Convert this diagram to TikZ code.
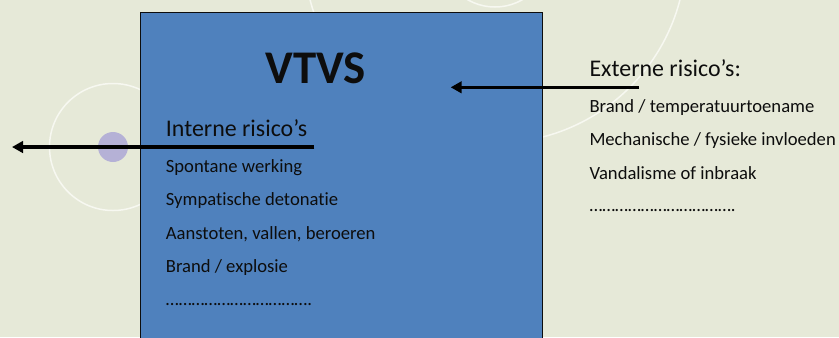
\documentclass[tikz,border=0pt]{standalone}
\usepackage{fontspec}
\setmainfont[Ligatures=NoCommon]{Carlito}
\usetikzlibrary{arrows.meta}
\definecolor{bgcol}{HTML}{E6E9D8}
\definecolor{boxblue}{HTML}{4F81BD}
\definecolor{dotpurple}{HTML}{B5B1D6}
\definecolor{ringcol}{HTML}{F7F8F1}
\definecolor{inkcol}{HTML}{0D0D0D}
\begin{document}
\begin{tikzpicture}[x=1bp,y=-1bp,
  item/.style={anchor=base west, inner sep=0pt, text=inkcol, font=\fontsize{18.7}{20}\selectfont},
  head/.style={anchor=base west, inner sep=0pt, text=inkcol, font=\fontsize{24}{26}\selectfont},
  conn/.style={draw=black, line width=3.2bp, -{Triangle[length=11bp,width=11.5bp]}},
  ring/.style={draw=ringcol, line width=1.5bp}]
\useasboundingbox (0,0) rectangle (839,337);
\clip (0,0) rectangle (839,337);
\fill[bgcol] (0,0) rectangle (839,337);
% background decoration
\draw[ring] (113,147) circle[radius=63.5];
\fill[dotpurple] (113,147) circle[radius=15];
\draw[ring] (495,-48) circle[radius=191];
\draw[ring] (495,-48) circle[radius=55];
% blue box
\node[draw=inkcol, fill=boxblue, line width=0.8bp, minimum width=401.5bp,
      minimum height=340bp, anchor=north west, inner sep=0pt] (box) at (140,11.5) {};
% title
\node[anchor=base, inner sep=0pt, text=inkcol, font=\fontsize{47}{50}\selectfont\bfseries] (title) at (315.5,83) {VTVS};
% internal risks
\node[head] (intern) at (165.7,136.7) {Interne risico’s};
\node[item] (i1) at (165.7,172.3) {Spontane werking};
\node[item] (i2) at (165.7,205.5) {Sympatische detonatie};
\node[item] (i3) at (165.7,239) {Aanstoten, vallen, beroeren};
\node[item] (i4) at (165.7,272.5) {Brand / explosie};
\node[item] (i5) at (165.7,305) {…………………………….};
% external risks
\node[head] (extern) at (589.3,76.7) {Externe risico’s:};
\node[item] (e1) at (589.3,112.3) {Brand / temperatuurtoename};
\node[item] (e2) at (589.3,145.7) {Mechanische / fysieke invloeden};
\node[item] (e3) at (589.3,179.3) {Vandalisme of inbraak};
\node[item] (e4) at (589.3,211.7) {…………………………….};
% connectors
\coordinate (intStart) at (314.3,147);
\coordinate (intTip) at (12,147);
\coordinate (extStart) at (639,87.3);
\coordinate (extTip) at (450.7,87.3);
\draw[conn] (intStart) -- (intTip);
\draw[conn] (extStart) -- (extTip);
\end{tikzpicture}
\end{document}
